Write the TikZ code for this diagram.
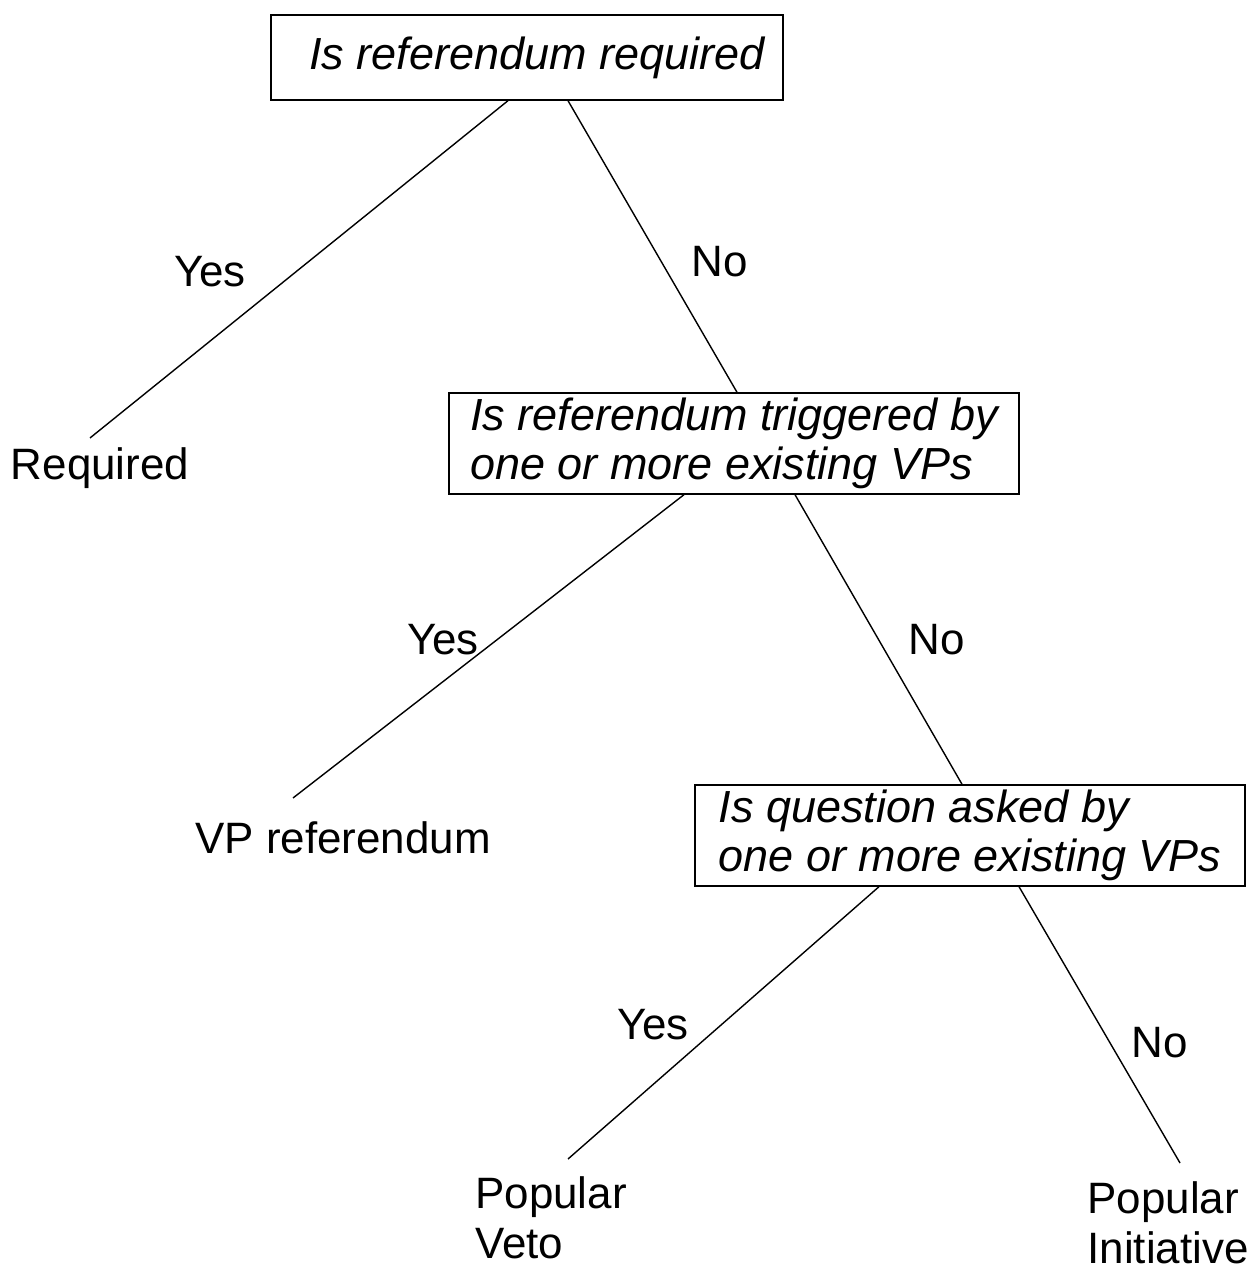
\documentclass[tikz,border=0pt]{standalone}
\usepackage{fontspec}
\setmainfont{Liberation Sans}
\usetikzlibrary{positioning}

\begin{document}
\begin{tikzpicture}[font=\fontsize{12.5}{14.2}\selectfont]
  \tikzstyle{question} = [draw, thin, rectangle, align=left, inner sep=0pt, font={\fontsize{12.8}{13.8}\selectfont\itshape}]
  \tikzstyle{outcome} = [align=left, inner sep=0pt]
  \tikzstyle{answer} = [inner sep=0pt]
  \tikzstyle{branch} = [black, thin]

  \useasboundingbox (0,0) rectangle (12.57,12.68);

  % questions
  \node[question, minimum width=5.12cm, minimum height=0.85cm] (q1) at (5.27,12.105) {\hspace{0.2cm}Is referendum required};
  \node[question, minimum width=5.70cm, minimum height=1.01cm] (q2) at (7.34,8.245) {Is referendum triggered by\\one or more existing VPs};
  \node[question, minimum width=5.50cm, minimum height=1.01cm] (q3) at (9.70,4.325) {Is question asked by\\one or more existing VPs};

  % outcomes
  \node[outcome] (req) at (1.00,8.00) {Required};
  \node[outcome] (vpref) at (3.43,4.30) {VP referendum};
  \node[outcome] (veto) at (5.51,0.50) {Popular\\Veto};
  \node[outcome] (init) at (11.68,0.45) {Popular\\Initiative};

  \coordinate (reqTop) at (0.90,8.30);
  \coordinate (vprefTop) at (2.93,4.70);
  \coordinate (vetoTop) at (5.68,1.09);
  \coordinate (initTop) at (11.80,1.05);

  % branches
  \draw[branch] ([xshift=-0.19cm]q1.south) -- (reqTop);
  \draw[branch] ([xshift=0.41cm]q1.south) -- ([xshift=0.03cm]q2.north);
  \draw[branch] ([xshift=-0.50cm]q2.south) -- (vprefTop);
  \draw[branch] ([xshift=0.61cm]q2.south) -- ([xshift=-0.08cm]q3.north);
  \draw[branch] ([xshift=-0.91cm]q3.south) -- (vetoTop);
  \draw[branch] ([xshift=0.49cm]q3.south) -- (initTop);

  % answers
  \node[answer] (yes1) at (2.10,9.96) {Yes};
  \node[answer] (no1) at (7.20,10.06) {No};
  \node[answer] (yes2) at (4.43,6.28) {Yes};
  \node[answer] (no2) at (9.37,6.28) {No};
  \node[answer] (yes3) at (6.53,2.43) {Yes};
  \node[answer] (no3) at (11.60,2.25) {No};
\end{tikzpicture}
\end{document}
